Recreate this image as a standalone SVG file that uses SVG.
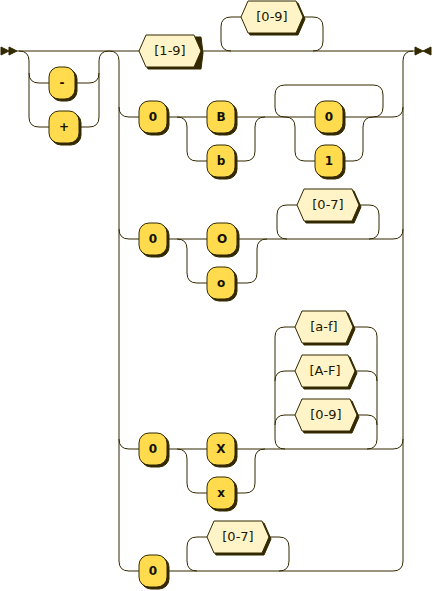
<svg xmlns="http://www.w3.org/2000/svg" width="433" height="591" viewBox="0 0 433 591">
<defs>
<style>
.line{fill:none;stroke:#332900;stroke-width:1}
.shadow{fill:#332900;stroke:#332900;stroke-width:1}
.arrow{fill:#332900;stroke:#332900;stroke-width:1}
rect.terminal{fill:#FFDB4D;stroke:#332900;stroke-width:1}
polygon.regexp{fill:#FFF4C7;stroke:#332900;stroke-width:1}
text.terminal{font-family:"DejaVu Sans",Verdana,sans-serif;font-size:12px;font-weight:bold;fill:#141000;text-anchor:middle}
text.regexp{font-family:"DejaVu Sans",Verdana,sans-serif;font-size:13px;font-weight:normal;fill:#1F1800;text-anchor:middle}
</style>
</defs>
<rect width="433" height="591" fill="#FFFFFF"/>
<g id="connectors">
<path class="line" d="M17 51 H139"/>
<path class="line" d="M19 51 q10 0 10 10 V117 q0 10 10 10 H49 M29 73 q0 10 10 10 H49"/>
<path class="line" d="M75 83 H89 q10 0 10 -10 M79 127 H89 q10 0 10 -10 V61 q0 -10 10 -10"/>
<path class="line" d="M109 51 q10 0 10 10 V561 q0 10 10 10 H139 M119 107 q0 10 10 10 H139 M119 229 q0 10 10 10 H139 M119 439 q0 10 10 10 H139"/>
<path class="line" d="M201 51 H415 M393 117 q10 0 10 -10 M393 239 q10 0 10 -10 M393 449 q10 0 10 -10 M393 571 q10 0 10 -10 V61 q0 -10 10 -10"/>
<path class="line" d="M231 51 q-10 0 -10 -10 V27 q0 -10 10 -10 H241 M303 17 H313 q10 0 10 10 V41 q0 10 -10 10"/>
<path class="line" d="M167 117 H207 M177 117 q10 0 10 10 V151 q0 10 10 10 H207 M235 117 H315 M235 161 H245 q10 0 10 -10 V127 q0 -10 10 -10"/>
<path class="line" d="M285 117 q-10 0 -10 -10 V95 q0 -10 10 -10 H373 q10 0 10 10 V107 q0 10 -10 10"/>
<path class="line" d="M285 117 q10 0 10 10 V151 q0 10 10 10 H315 M343 117 H393 M343 161 H353 q10 0 10 -10 V127 q0 -10 10 -10"/>
<path class="line" d="M167 239 H207 M177 239 q10 0 10 10 V273 q0 10 10 10 H207 M237 239 H393 M235 283 H247 q10 0 10 -10 V249 q0 -10 10 -10"/>
<path class="line" d="M287 239 q-10 0 -10 -10 V215 q0 -10 10 -10 H297 M359 205 H369 q10 0 10 10 V229 q0 10 -10 10"/>
<path class="line" d="M167 449 H207 M177 449 q10 0 10 10 V483 q0 10 10 10 H207 M235 449 H393 M235 493 H245 q10 0 10 -10 V459 q0 -10 10 -10"/>
<path class="line" d="M285 449 q-10 0 -10 -10 V337 q0 -10 10 -10 H295 M275 381 q0 -10 10 -10 H295 M275 425 q0 -10 10 -10 H295"/>
<path class="line" d="M353 327 H367 q10 0 10 10 V439 q0 10 -10 10 M355 371 H367 q10 0 10 10 M357 415 H367 q10 0 10 10"/>
<path class="line" d="M167 571 H393 M197 571 q-10 0 -10 -10 V547 q0 -10 10 -10 H207 M269 537 H279 q10 0 10 10 V561 q0 10 -10 10"/>
</g>
<g id="start">
<polygon class="arrow" points="9 51 1 47 1 55"/>
<polygon class="arrow" points="17 51 9 47 9 55"/>
</g>
<g id="end">
<polygon class="arrow" points="423 51 431 47 431 55"/>
<polygon class="arrow" points="423 51 415 47 415 55"/>
</g>
<g id="t-minus"><rect class="shadow" x="51" y="69" width="26" height="32" rx="10"/><rect class="terminal" x="49" y="67" width="26" height="32" rx="10"/><text class="terminal" x="62" y="87">-</text></g>
<g id="t-plus"><rect class="shadow" x="51" y="113" width="30" height="32" rx="10"/><rect class="terminal" x="49" y="111" width="30" height="32" rx="10"/><text class="terminal" x="64" y="131">+</text></g>
<g id="r-1-9"><polygon class="shadow" points="141 53 148 37 201 37 203 53 201 69 148 69"/><polygon class="regexp" points="139 51 146 35 194 35 201 51 194 67 146 67"/><text class="regexp" x="170" y="55">[1-9]</text></g>
<g id="r-0-9-top"><polygon class="shadow" points="243 19 250 3 298 3 305 19 298 35 250 35"/><polygon class="regexp" points="241 17 248 1 296 1 303 17 296 33 248 33"/><text class="regexp" x="272" y="21">[0-9]</text></g>
<g id="t-0-bin"><rect class="shadow" x="141" y="103" width="28" height="32" rx="10"/><rect class="terminal" x="139" y="101" width="28" height="32" rx="10"/><text class="terminal" x="153" y="121">0</text></g>
<g id="t-B"><rect class="shadow" x="209" y="103" width="28" height="32" rx="10"/><rect class="terminal" x="207" y="101" width="28" height="32" rx="10"/><text class="terminal" x="221" y="121">B</text></g>
<g id="t-b"><rect class="shadow" x="209" y="147" width="28" height="32" rx="10"/><rect class="terminal" x="207" y="145" width="28" height="32" rx="10"/><text class="terminal" x="221" y="165">b</text></g>
<g id="t-0-digit"><rect class="shadow" x="317" y="103" width="28" height="32" rx="10"/><rect class="terminal" x="315" y="101" width="28" height="32" rx="10"/><text class="terminal" x="329" y="121">0</text></g>
<g id="t-1-digit"><rect class="shadow" x="317" y="147" width="28" height="32" rx="10"/><rect class="terminal" x="315" y="145" width="28" height="32" rx="10"/><text class="terminal" x="329" y="165">1</text></g>
<g id="t-0-oct"><rect class="shadow" x="141" y="225" width="28" height="32" rx="10"/><rect class="terminal" x="139" y="223" width="28" height="32" rx="10"/><text class="terminal" x="153" y="243">0</text></g>
<g id="t-O"><rect class="shadow" x="209" y="225" width="30" height="32" rx="10"/><rect class="terminal" x="207" y="223" width="30" height="32" rx="10"/><text class="terminal" x="222" y="243">O</text></g>
<g id="t-o"><rect class="shadow" x="209" y="269" width="28" height="32" rx="10"/><rect class="terminal" x="207" y="267" width="28" height="32" rx="10"/><text class="terminal" x="221" y="287">o</text></g>
<g id="r-0-7-oct"><polygon class="shadow" points="299 207 306 191 354 191 361 207 354 223 306 223"/><polygon class="regexp" points="297 205 304 189 352 189 359 205 352 221 304 221"/><text class="regexp" x="328" y="209">[0-7]</text></g>
<g id="t-0-hex"><rect class="shadow" x="141" y="435" width="28" height="32" rx="10"/><rect class="terminal" x="139" y="433" width="28" height="32" rx="10"/><text class="terminal" x="153" y="453">0</text></g>
<g id="t-X"><rect class="shadow" x="209" y="435" width="28" height="32" rx="10"/><rect class="terminal" x="207" y="433" width="28" height="32" rx="10"/><text class="terminal" x="221" y="453">X</text></g>
<g id="t-x"><rect class="shadow" x="209" y="479" width="28" height="32" rx="10"/><rect class="terminal" x="207" y="477" width="28" height="32" rx="10"/><text class="terminal" x="221" y="497">x</text></g>
<g id="r-a-f"><polygon class="shadow" points="297 329 304 313 348 313 355 329 348 345 304 345"/><polygon class="regexp" points="295 327 302 311 346 311 353 327 346 343 302 343"/><text class="regexp" x="324" y="331">[a-f]</text></g>
<g id="r-A-F"><polygon class="shadow" points="297 373 304 357 350 357 357 373 350 389 304 389"/><polygon class="regexp" points="295 371 302 355 348 355 355 371 348 387 302 387"/><text class="regexp" x="325" y="375">[A-F]</text></g>
<g id="r-0-9-hex"><polygon class="shadow" points="297 417 304 401 352 401 359 417 352 433 304 433"/><polygon class="regexp" points="295 415 302 399 350 399 357 415 350 431 302 431"/><text class="regexp" x="326" y="419">[0-9]</text></g>
<g id="t-0-last"><rect class="shadow" x="141" y="557" width="28" height="32" rx="10"/><rect class="terminal" x="139" y="555" width="28" height="32" rx="10"/><text class="terminal" x="153" y="575">0</text></g>
<g id="r-0-7-last"><polygon class="shadow" points="209 539 216 523 264 523 271 539 264 555 216 555"/><polygon class="regexp" points="207 537 214 521 262 521 269 537 262 553 214 553"/><text class="regexp" x="238" y="541">[0-7]</text></g>
</svg>
